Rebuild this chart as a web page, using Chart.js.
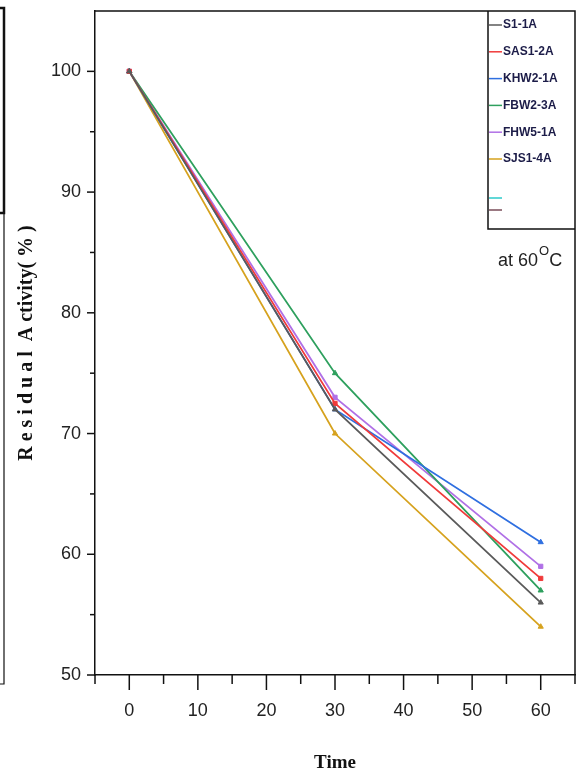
<!DOCTYPE html>
<html>
<head>
<meta charset="utf-8">
<script src="https://cdn.jsdelivr.net/npm/chart.js@4.4.1/dist/chart.umd.min.js"></script>
<style>
  html, body { margin: 0; padding: 0; background: #fff; }
  #wrap { position: relative; width: 581px; height: 779px; }
</style>
</head>
<body>
<div id="wrap"><canvas id="activityChart" width="581" height="779"></canvas></div>
<script>
// 시간 (min)
const times = [0, 30, 60];

// 잔존 활성 (%)
const seriesNames = ['S1-1A', 'SAS1-2A', 'KHW2-1A', 'FBW2-3A', 'FHW5-1A', 'SJS1-4A', '', ''];
const s1_1a   = [100, 72, 56];
const sas1_2a = [100, 72.5, 58];
const khw2_1a = [100, 72, 61];
const fbw2_3a = [100, 75, 57];
const fhw5_1a = [100, 73, 59];
const sjs1_4a = [100, 70, 54];
const seriesValues = [s1_1a, sas1_2a, khw2_1a, fbw2_3a, fhw5_1a, sjs1_4a, [], []];

const seriesColors = ['#5a5a5a', '#f03a3a', '#2f6fe0', '#2ea05e', '#b070e6', '#d6a21e', '#2ccaca', '#7a4c58'];
const pointStyles = ['triangle', 'rect', 'triangle', 'triangle', 'rect', 'triangle', 'circle', 'circle'];

const yTickLabels = [50, 60, 70, 80, 90, 100];
const xTickLabels = [0, 10, 20, 30, 40, 50, 60];

const tickFont = "'Liberation Sans', Arial, sans-serif";

// 눈금 + 테두리 + 범례 + 왼쪽 잘린 선
const decorPlugin = {
  id: 'decor',
  afterDraw(chart) {
    const { ctx, chartArea: a, scales: { x, y } } = chart;
    ctx.save();
    ctx.strokeStyle = '#111';
    ctx.lineWidth = 1.5;

    // 위/오른쪽 테두리
    ctx.beginPath();
    ctx.moveTo(a.left, a.top);
    ctx.lineTo(a.right, a.top);
    ctx.lineTo(a.right, a.bottom);
    ctx.stroke();

    // x 눈금 (큰 것 / 작은 것)
    x.ticks.forEach(t => {
      const px = x.getPixelForValue(t.value);
      const major = xTickLabels.includes(t.value);
      ctx.beginPath();
      ctx.moveTo(px, a.bottom);
      ctx.lineTo(px, a.bottom + (major ? 15 : 9));
      ctx.stroke();
    });
    // y 눈금
    y.ticks.forEach(t => {
      const py = y.getPixelForValue(t.value);
      if (t.value > 100) return;
      const major = yTickLabels.includes(t.value);
      ctx.beginPath();
      ctx.moveTo(a.left, py);
      ctx.lineTo(a.left - (major ? 8 : 5), py);
      ctx.stroke();
    });

    // 범례 박스
    const lx = 488, ly = a.top, lb = 229;
    ctx.beginPath();
    ctx.moveTo(lx, ly);
    ctx.lineTo(lx, lb);
    ctx.lineTo(a.right, lb);
    ctx.stroke();

    ctx.font = "bold 12px " + tickFont;
    ctx.textBaseline = 'middle';
    ctx.fillStyle = '#1c1c48';
    chart.data.datasets.forEach((ds, i) => {
      const rowY = i < 6 ? 25 + i * 26.8 : 198 + (i - 6) * 12;
      ctx.strokeStyle = ds.borderColor;
      ctx.lineWidth = 1.5;
      ctx.beginPath();
      ctx.moveTo(lx + 1, rowY);
      ctx.lineTo(lx + 14, rowY);
      ctx.stroke();
      if (ds.label) ctx.fillText(ds.label, lx + 15, rowY);
    });

    // at 60°C
    ctx.fillStyle = '#222';
    ctx.textBaseline = 'alphabetic';
    ctx.font = "18px " + tickFont;
    let tx = 498;
    ctx.fillText('at 60', tx, 266);
    tx += ctx.measureText('at 60').width + 1;
    ctx.font = "13px " + tickFont;
    ctx.fillText('O', tx, 255);
    tx += ctx.measureText('O').width;
    ctx.font = "18px " + tickFont;
    ctx.fillText('C', tx, 266);

    // 왼쪽 잘린 그림 테두리
    ctx.strokeStyle = '#111';
    ctx.lineWidth = 2.5;
    ctx.beginPath();
    ctx.moveTo(0, 8);
    ctx.lineTo(4, 8);
    ctx.lineTo(4, 213);
    ctx.lineTo(0, 213);
    ctx.stroke();
    ctx.lineWidth = 1.2;
    ctx.beginPath();
    ctx.moveTo(4, 213);
    ctx.lineTo(4, 684);
    ctx.lineTo(0, 684);
    ctx.stroke();
    ctx.restore();
  }
};

const ctx = document.getElementById('activityChart');

new Chart(ctx, {
  type: 'line',
  data: {
    datasets: seriesNames.map((name, i) => ({
      label: name,
      data: seriesValues[i].map((v, j) => ({ x: times[j], y: v })),
      borderColor: seriesColors[i],
      backgroundColor: seriesColors[i],
      borderWidth: 1.8,
      pointStyle: pointStyles[i],
      pointRadius: 3,
      pointBorderWidth: 1,
      tension: 0,
      fill: false
    }))
  },
  options: {
    responsive: false,
    animation: false,
    events: [],
    layout: { padding: { left: 0, top: 11, right: 6, bottom: 0 } },
    plugins: {
      legend: { display: false },
      tooltip: { enabled: false }
    },
    scales: {
      x: {
        type: 'linear',
        min: -5,
        max: 65,
        afterFit: s => { s.height = 104; s.paddingLeft = 0; s.paddingRight = 0; },
        afterBuildTicks: s => {
          s.ticks = [];
          for (let v = -5; v <= 65; v += 5) s.ticks.push({ value: v });
        },
        ticks: {
          autoSkip: false,
          maxRotation: 0,
          padding: 10,
          color: '#222',
          font: { family: tickFont, size: 18 },
          callback: v => xTickLabels.includes(v) ? String(v) : ''
        },
        grid: { display: false, drawTicks: true, tickLength: 15 },
        border: { display: true, color: '#111', width: 1.5 },
        title: {
          display: true,
          text: 'Time',
          color: '#111',
          font: { family: "'Liberation Serif', 'Times New Roman', serif", size: 19, weight: 'bold' },
          padding: { top: 0, bottom: 5 }
        }
      },
      y: {
        type: 'linear',
        min: 50,
        max: 105,
        afterFit: s => { s.width = 95; s.paddingTop = 0; s.paddingBottom = 0; },
        afterBuildTicks: s => {
          s.ticks = [];
          for (let v = 50; v <= 105; v += 5) s.ticks.push({ value: v });
        },
        ticks: {
          autoSkip: false,
          padding: 6,
          color: '#222',
          font: { family: tickFont, size: 18 },
          callback: v => yTickLabels.includes(v) ? String(v) : ''
        },
        grid: { display: false, drawTicks: true, tickLength: 8 },
        border: { display: true, color: '#111', width: 1.5 },
        title: {
          display: true,
          text: 'R e s i d u a l  A ctivity( % )',
          color: '#111',
          font: { family: "'Liberation Serif', 'Times New Roman', serif", size: 20, weight: 'bold' },
          padding: { top: 15, bottom: 0 }
        }
      }
    }
  },
  plugins: [decorPlugin]
});
</script>
</body>
</html>
